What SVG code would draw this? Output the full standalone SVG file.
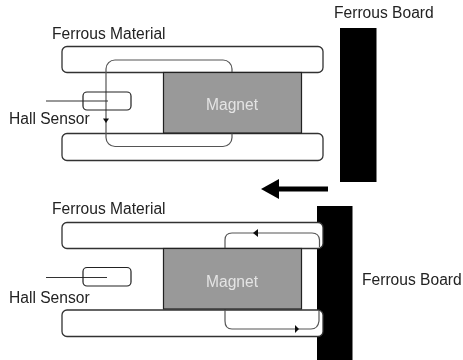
<svg xmlns="http://www.w3.org/2000/svg" width="463" height="360" viewBox="0 0 463 360">
<style>
text{font-family:"Liberation Sans",Arial,sans-serif;font-size:15.6px;fill:#222}
.bar{fill:#fff;stroke:#333;stroke-width:1.3}
.mag{fill:#999;stroke:#222;stroke-width:1.2}
.mt{fill:#e4e4e4}
.sen{fill:none;stroke:#222;stroke-width:1.2}
.flux{fill:none;stroke:#555;stroke-width:1.2}
.lead{fill:none;stroke:#333;stroke-width:1.1}
.brd{fill:#000}
.ah{fill:#111}
</style>
<defs><filter id="b" x="-5%" y="-5%" width="110%" height="110%"><feGaussianBlur stdDeviation="0.45"/></filter></defs>
<rect width="463" height="360" fill="#fff"/>
<g filter="url(#b)">
<g id="top-board"><rect class="brd" x="340" y="28" width="36.500" height="154"/><text x="334" y="18">Ferrous Board</text></g>
<g id="bottom-board"><rect class="brd" x="317" y="206" width="35.500" height="154"/><text x="362" y="285">Ferrous Board</text></g>
<g id="top-upper-bar"><rect class="bar" x="62" y="46.500" width="261" height="26" rx="5"/></g>
<g id="top-lower-bar"><rect class="bar" x="62" y="133.500" width="261" height="27" rx="5"/></g>
<g id="bottom-upper-bar"><rect class="bar" x="62" y="222.500" width="261" height="26" rx="5"/></g>
<g id="bottom-lower-bar"><rect class="bar" x="62" y="310" width="261" height="26.500" rx="5"/></g>
<g id="connectors">
<rect class="flux" x="106" y="60" width="126" height="86.500" rx="9"/>
<path class="lead" d="M46 101H108"/>
<path class="ah" d="M103 118.500h6l-3 4.500z"/>
<path class="lead" d="M46 277.500H107"/>
<path class="flux" d="M225 248V240Q225 233 232 233H312Q319 233 319.500 240V247"/>
<path class="ah" d="M253 233l5-4v8z"/>
<path class="flux" d="M225 309V321Q225 329 232 329H311Q318 329 319 321V311"/>
<path class="ah" d="M299 329l-4-4v8z"/>
<path d="M328 189H276" fill="none" stroke="#000" stroke-width="5"/>
<path d="M261 189l18-10v20z" fill="#000"/>
</g>
<g id="top-magnet"><rect class="mag" x="163.500" y="72.500" width="138" height="60.500"/><text class="mt" x="206" y="110">Magnet</text></g>
<g id="top-sensor"><rect class="sen" x="83" y="92" width="48" height="18" rx="4"/><text x="9" y="124">Hall Sensor</text></g>
<g id="top-labels"><text x="52" y="39">Ferrous Material</text></g>
<g id="bottom-magnet"><rect class="mag" x="163.500" y="248.500" width="138" height="60.500"/><text class="mt" x="206" y="287">Magnet</text></g>
<g id="bottom-sensor"><rect class="sen" x="83" y="267.500" width="48" height="18.500" rx="4"/><text x="9" y="303">Hall Sensor</text></g>
<g id="bottom-labels"><text x="52" y="214">Ferrous Material</text></g>
</g>
</svg>
